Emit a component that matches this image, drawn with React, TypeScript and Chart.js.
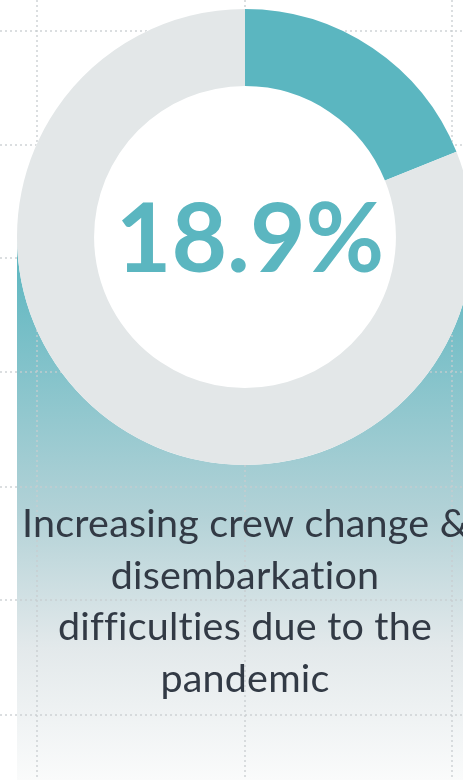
import React, { useEffect, useRef } from "react";
import { Chart, registerables } from "chart.js";

Chart.register(...registerables);

const sliceLabels = ["Increasing difficulties", "Other"];
const sliceValues = [18.9, 81.1];
const sliceColors = ["#5bb6c0", "#e3e7e8"];
const centerLabel = "18.9%";
const captionLines = [
  "Increasing crew change &",
  "disembarkation",
  "difficulties due to the",
  "pandemic",
];

const W = 490;
const H = 780;

const backgroundPlugin = {
  id: "bgPanel",
  beforeDraw(chart: any) {
    const ctx = chart.ctx as CanvasRenderingContext2D;
    ctx.save();
    ctx.fillStyle = "#ffffff";
    ctx.fillRect(0, 0, chart.width, chart.height);
    // gradient panel
    const top = 237;
    const g = ctx.createLinearGradient(0, 250, 0, 780);
    g.addColorStop(0, "#5cb6c0");
    g.addColorStop(0.5, "#b3d2d7");
    g.addColorStop(0.75, "#e3e9eb");
    g.addColorStop(1, "#fafbfb");
    ctx.fillStyle = g;
    ctx.fillRect(17, top, 456, chart.height - top);
    // dotted grid
    ctx.strokeStyle = "rgba(200,204,207,0.65)";
    ctx.lineWidth = 2;
    ctx.setLineDash([2, 3]);
    const hs = [31, 145, 258, 372, 487, 600, 715];
    const vs = [37, 245, 452];
    hs.forEach((y) => {
      ctx.beginPath();
      ctx.moveTo(0, y);
      ctx.lineTo(chart.width, y);
      ctx.stroke();
    });
    vs.forEach((x) => {
      ctx.beginPath();
      ctx.moveTo(x, 0);
      ctx.lineTo(x, chart.height);
      ctx.stroke();
    });
    ctx.restore();
  },
  beforeDatasetsDraw(chart: any) {
    const arc = chart.getDatasetMeta(0).data[0];
    if (!arc) return;
    const ctx = chart.ctx as CanvasRenderingContext2D;
    ctx.save();
    ctx.fillStyle = "#ffffff";
    ctx.beginPath();
    ctx.arc(arc.x, arc.y, arc.outerRadius, 0, Math.PI * 2);
    ctx.fill();
    ctx.restore();
  },
  afterDatasetsDraw(chart: any) {
    const arc = chart.getDatasetMeta(0).data[0];
    if (!arc) return;
    const ctx = chart.ctx as any;
    ctx.save();
    ctx.textAlign = "center";
    ctx.textBaseline = "alphabetic";
    ctx.fillStyle = "#5bb6c0";
    ctx.font = "bold 96px Lato";
    ctx.fillText(centerLabel, arc.x + 5, 272);
    ctx.fillStyle = "#323a45";
    ctx.font = "39.5px Lato";
    try {
      ctx.textRendering = "optimizeSpeed";
      ctx.letterSpacing = "0.2px";
    } catch (e) {}
    const baselines = [537, 589, 640, 692];
    captionLines.forEach((line, i) => {
      ctx.fillText(line, arc.x, baselines[i]);
    });
    ctx.restore();
  },
};

export default function App() {
  const ref = useRef<HTMLCanvasElement | null>(null);
  useEffect(() => {
    document.body.style.margin = "0";
    const chart = new Chart(ref.current as HTMLCanvasElement, {
      type: "doughnut",
      data: {
        labels: sliceLabels,
        datasets: [
          {
            data: sliceValues,
            backgroundColor: sliceColors,
            borderWidth: 0,
            hoverOffset: 0,
          },
        ],
      },
      options: {
        animation: false,
        responsive: false,
        cutout: "66.2%",
        layout: { padding: { left: 17, right: 17, top: 9, bottom: 315 } },
        plugins: {
          legend: { display: false },
          tooltip: { enabled: false },
        },
        events: [],
      },
      plugins: [backgroundPlugin],
    });
    return () => chart.destroy();
  }, []);
  return (
    <div
      style={{
        position: "fixed",
        left: 0,
        top: 0,
        width: 463,
        height: 780,
        overflow: "hidden",
        background: "#fff",
      }}
    >
      <canvas
        ref={ref}
        width={W}
        height={H}
        style={{ position: "absolute", left: 0, top: 0, width: W, height: H }}
      />
    </div>
  );
}
